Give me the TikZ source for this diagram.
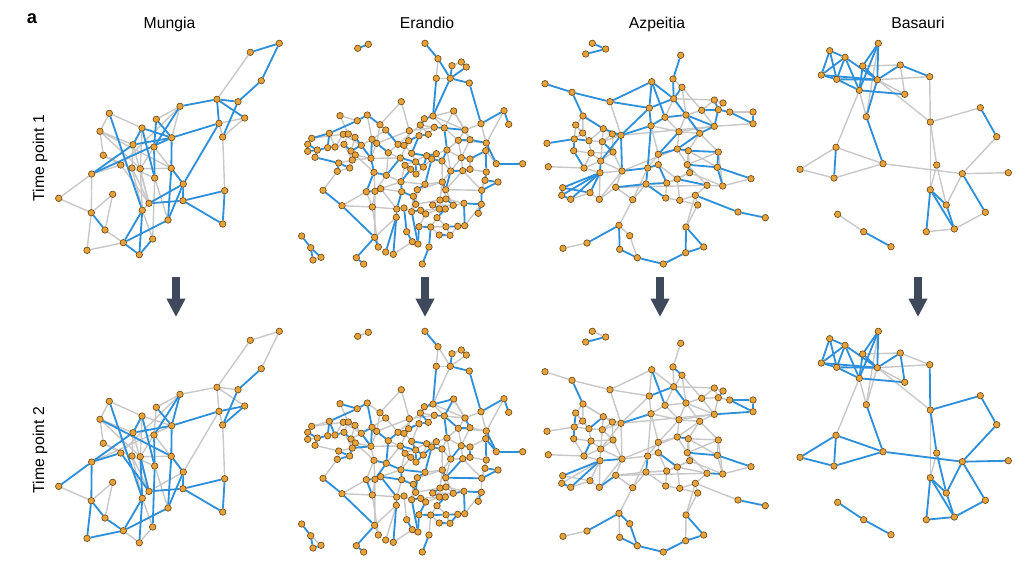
\documentclass[tikz,border=0pt]{standalone}
\usepackage{fontspec}
\setmainfont{Liberation Sans}
\usetikzlibrary{arrows.meta}
\definecolor{netblue}{HTML}{2E8FDA}
\definecolor{netgrey}{HTML}{C8C8C8}
\definecolor{dotfill}{HTML}{E8A23A}
\definecolor{dotline}{HTML}{6A4716}
\definecolor{arrowgrey}{HTML}{3E4A5C}
\pgfdeclarelayer{edges}
\pgfsetlayers{edges,main}

% node positions (px) of each town network, time point 1
\newcommand{\mungianodes}{1/279.3/43.3, 2/250.3/52.3, 3/261.3/80.7, 4/217/99.3, 5/238/101.7,
 6/180/106.3, 7/244.7/118, 8/219/123.3, 9/222.7/137, 10/109.3/113.3, 11/156.3/119.3,
 12/100/131.3, 13/142/128, 14/171.7/137.7, 15/133/144.7, 16/154/147, 17/103.3/155.3,
 18/120.7/165, 19/132/168, 20/140.3/168.7, 21/171.3/168.3, 22/91.7/174, 23/154.7/178,
 24/183.3/184, 25/224.7/190.7, 26/112.7/194.3, 27/58.7/198.3, 28/183/200.7, 29/149/203.3,
 30/142.3/210.3, 31/91.3/212.7, 32/168/220, 33/222.7/224, 34/105/230, 35/152.7/239,
 36/123.3/242.7, 37/87/250.3, 38/139.3/254.7}
\newcommand{\mungiaedges}{1/2/bl/gy, 1/3/bl/gy, 2/4/gy/gy, 3/5/bl/bl, 4/5/bl/gy, 4/6/bl/gy,
 4/7/bl/gy, 4/8/bl/gy, 5/9/bl/bl, 7/9/gy/bl, 8/7/gy/bl, 8/9/gy/gy, 8/14/bl/bl, 8/24/bl/gy,
 9/25/gy/gy, 6/14/gy/bl, 6/16/bl/bl, 6/11/gy/gy, 10/13/gy/gy, 10/30/bl/bl, 12/17/gy/gy,
 12/21/gy/bl, 11/16/bl/gy, 13/15/bl/bl, 13/14/bl/gy, 13/23/bl/bl, 14/15/bl/bl, 14/22/bl/gy,
 14/21/bl/bl, 16/23/bl/bl, 15/19/gy/gy, 17/18/gy/gy, 18/22/gy/bl, 18/29/gy/bl, 19/29/gy/gy,
 20/29/gy/bl, 20/16/gy/gy, 21/24/bl/bl, 21/32/bl/bl, 22/27/gy/bl, 22/31/gy/bl, 27/31/gy/gy,
 31/34/bl/bl, 31/37/gy/bl, 26/34/gy/gy, 34/36/gy/bl, 36/37/gy/bl, 32/36/bl/bl, 24/32/bl/bl,
 24/28/bl/bl, 28/25/bl/bl, 28/33/bl/bl, 25/33/bl/bl, 28/29/bl/bl, 29/30/gy/gy, 30/36/bl/bl,
 30/38/bl/bl, 36/38/bl/gy, 38/35/bl/gy, 35/23/gy/bl, 15/22/bl/bl, 12/15/gy/gy, 11/14/bl/bl,
 20/21/gy/gy, 13/20/gy/gy, 12/20/gy/gy, 19/23/gy/gy, 17/19/gy/gy, 26/31/gy/gy, 15/29/gy/gy,
 20/30/gy/bl, 19/30/gy/gy, 6/18/gy/gy, 23/32/gy/gy, 24/29/bl/gy, 16/24/gy/gy, 10/12/gy/gy,
 30/35/gy/gy}

\newcommand{\erandionodes}{1/357.7/48.3, 2/368.3/44.3, 3/401.3/101.7, 4/340/115.7, 5/357.3/120.7,
 6/367.3/115, 7/380/124.7, 8/385.7/130, 9/311.7/138.3, 10/307.7/144.3, 11/329.3/133.3,
 12/343.3/134.3, 13/348.3/134, 14/355/137.3, 15/372/139.3, 16/376.7/143.3, 17/317.3/150,
 18/307.7/151.3, 19/327.7/147.7, 20/335/147, 21/344/144.3, 22/361.3/145.3, 23/315/157.3,
 24/351/151, 25/355.3/155, 26/352.3/160, 27/371/158.3, 28/388.3/152.7, 29/338.7/163,
 30/349.7/168, 31/337.3/171.3, 32/374/172.3, 33/386.3/175.3, 34/398/144.3, 35/404/145.3,
 36/409.3/130.7, 37/408.7/140.7, 38/400.3/158, 39/405/165.3, 40/410.7/169.3, 41/401/181.7,
 42/323/190.3, 43/366.3/191.7, 44/375/191.3, 45/380.7/188.7, 46/401.7/191.7, 47/342/205.7,
 48/372.3/207, 49/396.7/209, 50/404/208, 51/396.3/217.3, 52/406.7/231.7, 53/412.3/241.7,
 54/374.7/237.3, 55/378.3/247, 56/385.7/252, 57/393.3/254.3, 58/301.7/236, 59/310.7/247.7,
 60/313/260, 61/321/257.3, 62/356.3/257.7, 63/363.7/264, 64/425/43.3, 65/438/58.7,
 66/452/65.7, 67/461.3/62, 68/466.3/67, 69/436.3/78.3, 70/450.3/78.3, 71/469.3/83,
 72/453.7/111, 73/504/110.7, 74/508.7/124.3, 75/481/123.7, 76/433/116, 77/424.3/118.7,
 78/420.3/125, 79/434.3/127.3, 80/444.3/128, 81/428.3/134.3, 82/419/135.7, 83/465/130,
 84/458.3/140.3, 85/470/139.7, 86/486.3/143, 87/411.7/153.3, 88/426.7/155.7, 89/436.3/153.7,
 90/431.7/159, 91/442/161, 92/447/150, 93/461.3/157.7, 94/470/159, 95/485.7/150.7,
 96/415.7/162, 97/423.3/167, 98/416/174, 99/450.7/171, 100/462.7/170.7, 101/470/169.3,
 102/496.3/163.7, 103/522.7/163.7, 104/486.3/172, 105/485/180.3, 106/498/182, 107/425/184.3,
 108/417.3/189.7, 109/442.3/182, 110/445.7/189.7, 111/481.7/190.3, 112/413.3/196.3,
 113/415.7/204.3, 114/440/200, 115/446/199, 116/432.7/205, 117/453.3/205.3, 118/464/203.3,
 119/481.3/204.3, 120/478.3/213.3, 121/411.7/211.7, 122/420.7/210.3, 123/425.7/214,
 124/439.3/209, 125/445.3/209, 126/437/217.7, 127/419/226.7, 128/430.7/227, 129/446/226.7,
 130/457.7/226.3, 131/464.7/225.7, 132/439.3/235, 133/450/235.3, 134/418/244,
 135/429/247, 136/422.3/264}
\newcommand{\erandioedges}{1/2/bl/gy, 3/36/gy/gy, 4/5/gy/bl, 5/6/bl/bl, 6/7/bl/gy, 7/8/gy/gy,
 5/11/bl/bl, 4/13/gy/gy, 6/15/gy/bl, 7/16/gy/gy, 9/10/bl/bl, 9/11/bl/gy, 10/18/gy/bl,
 11/19/bl/bl, 17/18/bl/gy, 17/19/bl/bl, 19/20/bl/gy, 20/21/gy/bl, 12/13/bl/bl, 13/14/gy/bl,
 14/22/bl/gy, 12/20/gy/gy, 21/24/bl/bl, 24/25/gy/bl, 25/26/bl/gy, 22/27/bl/bl, 15/16/bl/gy,
 16/28/bl/bl, 27/32/bl/gy, 28/33/gy/bl, 26/29/gy/gy, 29/30/bl/bl, 30/31/gy/bl, 29/31/bl/gy,
 31/42/gy/gy, 42/47/bl/bl, 47/54/bl/bl, 54/55/bl/gy, 54/62/bl/bl, 62/63/bl/bl, 32/43/bl/gy,
 43/44/bl/bl, 44/45/bl/gy, 45/46/gy/bl, 32/33/bl/bl, 33/38/bl/gy, 38/39/gy/bl, 39/40/bl/bl,
 40/41/bl/gy, 41/46/bl/bl, 46/49/bl/gy, 49/50/gy/bl, 49/51/bl/bl, 51/56/bl/gy, 51/57/bl/bl,
 50/52/bl/gy, 52/53/bl/bl, 48/49/gy/gy, 48/43/gy/bl, 44/48/gy/gy, 54/51/gy/gy, 58/59/bl/bl,
 59/60/bl/bl, 59/61/bl/gy, 60/61/gy/bl, 23/17/bl/bl, 23/29/bl/gy, 34/35/bl/bl, 36/37/gy/gy,
 35/37/bl/bl, 34/28/gy/bl, 8/34/bl/gy, 15/27/bl/bl, 22/24/bl/gy, 10/17/bl/bl, 24/30/gy/gy,
 26/27/gy/bl, 64/65/bl/bl, 65/69/gy/gy, 65/70/bl/gy, 66/67/gy/gy, 67/68/bl/bl, 66/70/bl/bl,
 68/70/bl/gy, 70/71/bl/bl, 71/75/bl/bl, 69/70/gy/gy, 69/76/bl/bl, 70/76/bl/gy, 75/73/bl/bl,
 73/74/bl/bl, 72/85/gy/gy, 72/77/gy/bl, 76/77/bl/bl, 77/78/bl/gy, 78/79/gy/gy, 79/80/bl/bl,
 80/83/bl/gy, 76/80/gy/gy, 81/82/bl/bl, 83/85/gy/bl, 84/85/bl/bl, 85/86/bl/gy, 75/86/gy/gy,
 86/102/bl/bl, 102/103/bl/bl, 86/84/gy/gy, 87/88/bl/bl, 88/89/bl/gy, 89/90/gy/bl, 90/91/bl/bl,
 91/92/bl/gy, 92/93/gy/gy, 93/94/bl/bl, 94/95/bl/gy, 95/102/gy/bl, 95/104/bl/bl,
 104/105/bl/gy, 105/106/bl/bl, 96/97/bl/bl, 97/98/gy/bl, 99/100/bl/gy, 100/101/bl/bl,
 101/104/gy/gy, 93/99/gy/bl, 107/108/bl/bl, 108/109/gy/gy, 109/110/bl/bl, 110/111/gy/bl,
 111/119/bl/gy, 119/120/bl/bl, 112/113/bl/bl, 113/114/gy/gy, 114/115/bl/bl, 115/117/bl/gy,
 117/118/gy/bl, 118/119/bl/bl, 116/117/gy/gy, 121/122/bl/bl, 122/123/bl/gy, 123/124/gy/gy,
 124/125/bl/bl, 125/126/bl/bl, 126/129/gy/gy, 127/128/bl/bl, 128/129/gy/bl, 129/130/bl/bl,
 130/131/bl/gy, 131/118/bl/bl, 132/133/bl/bl, 128/132/gy/gy, 133/130/gy/bl, 134/127/bl/bl,
 135/128/bl/gy, 136/135/bl/bl, 134/121/bl/bl, 112/121/gy/gy, 87/96/gy/bl, 96/98/bl/bl,
 82/87/bl/gy, 37/82/bl/bl, 35/87/gy/gy, 41/107/gy/bl, 46/112/bl/bl, 50/121/gy/gy,
 38/96/bl/bl, 84/92/gy/gy, 89/91/gy/gy, 80/92/bl/bl, 99/110/bl/gy, 100/111/gy/gy,
 101/94/gy/bl, 106/111/bl/bl, 88/97/bl/gy, 90/107/bl/bl, 108/113/gy/bl, 116/124/bl/bl,
 16/36/gy/gy, 27/38/gy/gy, 33/44/gy/bl, 12/22/gy/gy, 25/32/gy/gy, 14/27/gy/gy, 36/79/gy/gy,
 76/83/gy/gy, 72/80/gy/bl, 84/93/gy/gy, 75/83/gy/gy, 92/99/gy/gy, 105/111/gy/gy,
 109/115/gy/gy, 41/45/gy/gy, 43/47/gy/gy, 39/88/gy/gy, 110/117/gy/gy, 91/109/gy/gy,
 34/78/gy/gy, 57/53/gy/gy, 40/98/bl/gy, 53/134/gy/bl, 9/12/gy/gy, 11/20/gy/bl, 13/21/gy/gy,
 14/24/gy/gy, 15/22/gy/bl, 16/27/gy/gy, 8/15/gy/gy, 3/7/gy/gy, 21/26/gy/gy, 25/27/gy/gy,
 26/30/gy/bl, 28/38/gy/gy, 32/44/gy/gy, 33/41/gy/bl, 37/38/gy/gy, 39/41/gy/gy, 43/45/gy/gy,
 45/49/gy/bl, 47/48/gy/gy, 44/54/gy/gy, 48/55/gy/gy, 79/81/gy/gy, 80/84/gy/bl, 83/84/gy/gy,
 85/93/gy/gy, 86/95/gy/gy, 89/92/gy/gy, 90/97/gy/bl, 91/99/gy/gy, 93/100/gy/gy,
 94/101/gy/gy, 99/109/gy/gy, 100/110/gy/bl, 104/111/gy/gy, 107/109/gy/gy, 109/114/gy/gy,
 114/116/gy/bl, 115/118/gy/gy, 117/125/gy/gy, 119/131/gy/gy, 122/124/gy/gy, 123/127/gy/bl,
 126/128/gy/gy, 129/133/gy/gy, 113/121/gy/gy, 77/82/gy/gy, 78/81/gy/bl, 73/86/gy/gy,
 72/83/gy/gy}

\newcommand{\azpeitianodes}{1/592.3/43.3, 2/605.7/49, 3/585.7/54, 4/545/83.7, 5/572/92.3,
 6/610/101.7, 7/649.3/108, 8/583/116, 9/575.7/125, 10/603.3/128.7, 11/582.7/133,
 12/612.3/134, 13/621/135.3, 14/651/125.7, 15/547/143.3, 16/574.3/139, 17/589/140.7,
 18/602.3/141.7, 19/573.7/150.7, 20/591/153, 21/613/152, 22/548.3/166.7, 23/584/168,
 24/600.7/161, 25/600/172.7, 26/622/171, 27/647.7/168, 28/562.7/187.7, 29/561.7/195.3,
 30/570.7/199.3, 31/590/192.7, 32/599.3/199.3, 33/615.7/187.3, 34/632.7/199.7, 35/646/184,
 36/619/225.3, 37/629.7/235.7, 38/587/243, 39/563/248.3, 40/619.7/249.3, 41/637.3/257.7,
 42/680.7/55.3, 43/673/79, 44/682/87.3, 45/651.7/81.7, 46/673.7/98.7, 47/714.3/100,
 48/723/103, 49/701.7/110.3, 50/718.3/109.7, 51/729.7/112, 52/753/112, 53/665/117.3,
 54/686/115, 55/714.3/126.3, 56/753/123.7, 57/679/131.7, 58/699.7/133.3, 59/658.3/154.3,
 60/677.3/149, 61/688.3/150.7, 62/718.3/152, 63/658.3/164.7, 64/687.3/164.7, 65/717.3/167.3,
 66/689.7/172.7, 67/666.7/183, 68/677.3/179, 69/707/185.3, 70/722.7/186, 71/751/178.7,
 72/665.7/198, 73/679.7/200.3, 74/695.3/195.3, 75/697.7/205, 76/738/212, 77/765.3/217.7,
 78/686/227, 79/703.7/247, 80/685.7/252.7, 81/663.3/264}
\newcommand{\azpeitiaedges}{1/2/bl/gy, 2/3/bl/bl, 4/5/bl/gy, 5/6/bl/gy, 6/7/bl/gy, 5/8/bl/bl,
 6/13/gy/gy, 7/14/bl/gy, 7/13/bl/gy, 8/9/gy/gy, 8/10/bl/gy, 8/11/gy/gy, 9/16/gy/bl,
 10/13/bl/gy, 10/12/gy/gy, 12/13/bl/gy, 13/14/bl/bl, 11/17/gy/gy, 15/16/bl/gy, 16/17/bl/gy,
 17/18/gy/gy, 16/19/bl/bl, 19/20/gy/gy, 19/23/bl/gy, 20/21/gy/gy, 18/21/bl/gy, 13/24/bl/gy,
 24/25/bl/gy, 21/26/gy/gy, 13/26/bl/gy, 22/23/gy/gy, 23/24/gy/gy, 25/28/bl/bl, 25/29/bl/gy,
 25/30/bl/bl, 28/29/bl/gy, 29/30/bl/bl, 28/31/bl/gy, 30/31/gy/gy, 25/31/bl/gy, 25/32/gy/gy,
 26/33/gy/gy, 25/26/gy/bl, 33/34/gy/gy, 33/35/bl/gy, 26/27/bl/gy, 27/35/bl/bl, 34/35/gy/gy,
 14/27/bl/gy, 34/36/gy/gy, 36/38/bl/bl, 36/40/bl/gy, 38/39/gy/gy, 40/41/bl/bl, 37/41/gy/bl,
 36/37/gy/bl, 42/43/bl/gy, 43/46/bl/gy, 44/46/bl/gy, 45/46/bl/gy, 45/53/bl/bl, 46/53/gy/gy,
 46/54/bl/bl, 53/54/bl/gy, 54/57/gy/gy, 54/55/bl/gy, 47/49/gy/gy, 48/50/gy/bl, 47/50/bl/gy,
 49/50/bl/gy, 50/51/bl/gy, 51/52/gy/bl, 51/56/bl/bl, 50/55/bl/gy, 55/56/gy/bl, 55/57/gy/gy,
 55/58/bl/gy, 54/58/bl/gy, 57/60/gy/gy, 58/60/bl/gy, 60/61/bl/bl, 61/62/bl/gy, 58/62/gy/gy,
 59/60/bl/gy, 59/63/gy/gy, 61/64/gy/gy, 62/65/bl/gy, 64/65/bl/bl, 65/71/bl/bl, 65/70/bl/gy,
 64/66/bl/gy, 66/70/gy/gy, 63/67/bl/gy, 67/68/gy/gy, 68/69/bl/gy, 69/70/gy/bl, 66/68/gy/gy,
 67/72/gy/gy, 72/73/gy/gy, 73/74/gy/gy, 74/75/gy/gy, 74/76/bl/gy, 76/77/bl/bl, 72/35/bl/gy,
 67/35/bl/gy, 63/27/bl/gy, 53/14/bl/gy, 45/7/bl/gy, 7/46/bl/bl, 14/59/gy/gy, 57/59/bl/gy,
 78/79/bl/bl, 78/80/bl/gy, 79/80/bl/bl, 80/81/bl/bl, 81/41/bl/bl, 74/78/gy/gy, 6/45/bl/gy,
 44/54/gy/gy, 12/21/gy/gy, 10/18/gy/gy, 13/55/gy/gy, 14/57/gy/gy, 26/60/gy/gy, 27/59/gy/gy,
 35/67/gy/gy, 33/69/gy/gy, 61/66/gy/gy, 62/64/gy/gy, 20/24/gy/gy, 32/33/gy/bl, 9/11/gy/gy,
 52/56/bl/bl, 47/48/gy/gy, 49/55/gy/gy, 8/12/gy/gy, 9/17/gy/gy, 10/17/gy/bl, 11/16/gy/gy,
 12/18/gy/gy, 13/18/gy/gy, 17/20/gy/gy, 18/24/gy/gy, 20/23/gy/bl, 21/24/gy/gy, 24/26/gy/gy,
 26/32/gy/gy, 31/32/gy/gy, 23/25/gy/gy, 27/34/gy/gy, 43/44/gy/bl, 44/49/gy/gy, 46/47/gy/gy,
 49/54/gy/gy, 53/57/gy/gy, 57/58/gy/gy, 58/61/gy/gy, 60/64/gy/gy, 61/65/gy/gy, 62/70/gy/gy,
 63/68/gy/bl, 64/69/gy/gy, 66/67/gy/gy, 68/73/gy/gy, 69/74/gy/gy, 70/71/gy/gy, 73/75/gy/gy,
 75/78/gy/gy}

\newcommand{\basaurinodes}{1/878.3/43.3, 2/829.7/50.7, 3/845/57.3, 4/862.7/66, 5/900.3/65,
 6/821.3/75, 7/836.7/79.3, 8/877.3/79.7, 9/929.7/76.7, 10/859.3/90.3, 11/904.7/94.3,
 12/866.3/116.7, 13/930.3/122, 14/980.3/107.7, 15/996.7/136.7, 16/836/147.3, 17/883/163.7,
 18/800/169.3, 19/834/178, 20/936.7/165, 21/962.3/173.7, 22/1008.3/172.7, 23/930.3/189.7,
 24/946.3/205, 25/985.3/212.3, 26/926.3/231.7, 27/954.3/229, 28/837.7/214.3,
 29/863.7/231.7, 30/891/246.7}
\newcommand{\basauriedges}{2/3/bl/bl, 2/6/bl/bl, 2/7/bl/bl, 3/6/bl/bl, 3/7/bl/bl, 3/10/bl/bl,
 3/8/bl/bl, 6/7/bl/bl, 6/8/bl/bl, 7/8/bl/bl, 7/10/bl/bl, 4/10/bl/bl, 4/8/bl/bl, 1/10/bl/bl,
 1/8/bl/bl, 1/4/bl/bl, 1/12/gy/gy, 4/5/gy/gy, 5/8/bl/bl, 5/9/bl/gy, 5/11/gy/bl, 8/9/gy/gy,
 8/11/gy/gy, 10/11/bl/bl, 10/12/gy/gy, 8/12/bl/gy, 12/17/bl/bl, 10/16/gy/gy, 9/13/gy/bl,
 8/13/gy/gy, 13/14/gy/bl, 14/15/bl/bl, 15/21/gy/bl, 16/18/gy/bl, 16/19/bl/bl, 18/19/gy/bl,
 16/17/gy/bl, 19/17/gy/bl, 17/21/gy/bl, 21/22/gy/bl, 13/23/gy/gy, 13/20/gy/bl, 20/23/gy/gy,
 23/26/bl/bl, 23/24/bl/bl, 23/27/bl/bl, 24/27/bl/bl, 20/24/gy/bl, 24/21/gy/bl, 21/25/bl/bl,
 25/27/gy/bl, 26/27/gy/bl, 28/29/gy/bl, 29/30/bl/bl}

% one network at both time points: #1 name prefix, #2 nodes, #3 edges
\newcommand{\netpanel}[3]{%
  \foreach \t/\dy in {a/0,b/288}
    \foreach \i/\x/\y in #2
      \node[netdot] (#1\t\i) at (\x,\y+\dy) {};
  \begin{pgfonlayer}{edges}
    % grey links first, blue links over them
    \begin{scope}[bl/.style={draw=none}]
      \foreach \p/\q/\ca/\cb in #3 {
        \draw[\ca] (#1a\p) -- (#1a\q);
        \draw[\cb] (#1b\p) -- (#1b\q);
      }
    \end{scope}
    \begin{scope}[gy/.style={draw=none}]
      \foreach \p/\q/\ca/\cb in #3 {
        \draw[\ca] (#1a\p) -- (#1a\q);
        \draw[\cb] (#1b\p) -- (#1b\q);
      }
    \end{scope}
  \end{pgfonlayer}
}

\tikzset{
  netdot/.style={circle,fill=dotfill,draw=dotline,line width=0.45pt,inner sep=0pt,minimum size=4.6pt},
  bl/.style={draw=netblue,line width=1.3pt},
  gy/.style={draw=netgrey,line width=1pt},
  site/.style={font=\fontsize{11.2}{13}\selectfont,anchor=base},
  timelabel/.style={font=\fontsize{11.2}{13}\selectfont,rotate=90},
  flowarrow/.style={draw=arrowgrey,line width=5.3pt,-{Triangle[width=12.5pt,length=13pt,fill=arrowgrey]}}
}

\begin{document}
\begin{tikzpicture}[x=0.025cm,y=-0.025cm]
\useasboundingbox (0,0) rectangle (1024,574);

% titles
\node[font=\bfseries\fontsize{13}{15}\selectfont,anchor=base] (panel) at (32,23.5) {a};
\node[site] (mungia) at (169.5,28) {Mungia};
\node[site] (erandio) at (427,28) {Erandio};
\node[site] (azpeitia) at (657,28) {Azpeitia};
\node[site] (basauri) at (918,28) {Basauri};
\node[timelabel] (time1) at (40,158) {Time point 1};
\node[timelabel] (time2) at (40,450) {Time point 2};

% networks
\netpanel{mun}{\mungianodes}{\mungiaedges}
\netpanel{era}{\erandionodes}{\erandioedges}
\netpanel{azp}{\azpeitianodes}{\azpeitiaedges}
\netpanel{bas}{\basaurinodes}{\basauriedges}

% time arrows
\foreach \x [count=\k] in {176,425,660,918} {
  \coordinate (from\k) at (\x,277);
  \coordinate (to\k) at (\x,317);
  \draw[flowarrow] (from\k) -- (to\k);
}
\end{tikzpicture}
\end{document}
